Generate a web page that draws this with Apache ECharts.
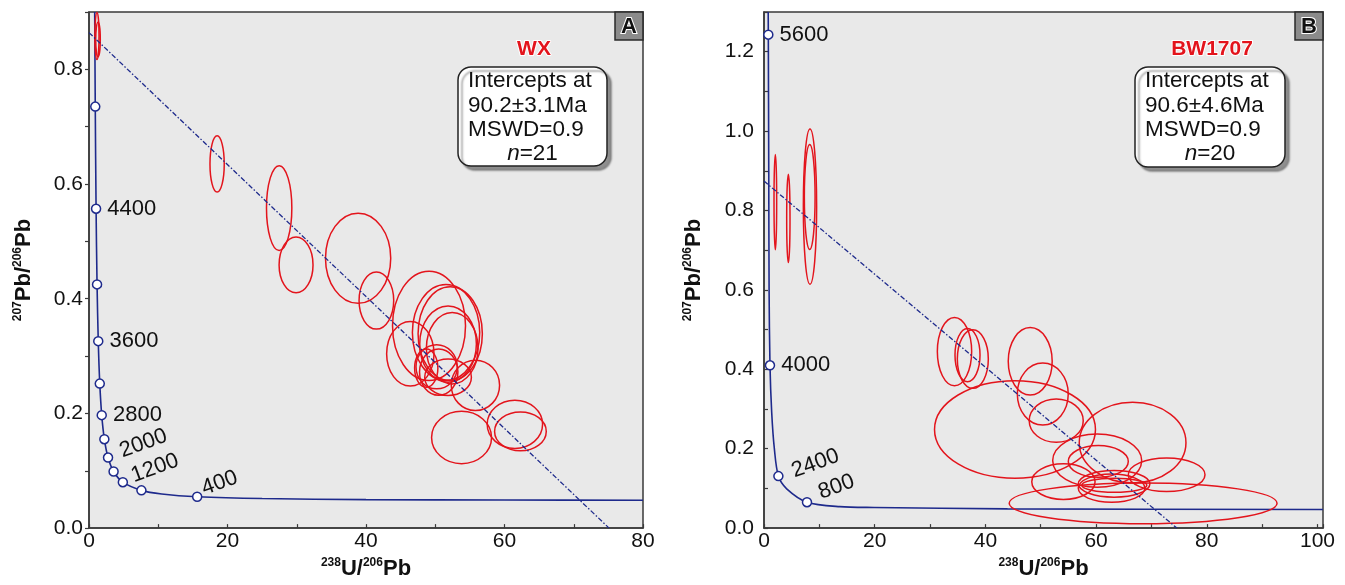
<!DOCTYPE html>
<html>
<head>
<meta charset="utf-8">
<title>Tera-Wasserburg concordia diagrams</title>
<script src="https://cdn.jsdelivr.net/npm/echarts@6/dist/echarts.min.js"></script>
<style>
  html, body { margin: 0; padding: 0; background: #ffffff; }
  #chart { width: 1345px; height: 585px; }
</style>
</head>
<body>
<div id="chart"></div>
<script>
// ---- Sample WX (panel A) ----
// concordia curve points [238U/206Pb, 207Pb/206Pb]
const concordiaA = [
  [0.822, 0.9], [0.905, 0.735], [1.022, 0.557], [1.163, 0.425], [1.337, 0.326],
  [1.556, 0.252], [1.838, 0.197], [2.217, 0.155], [2.749, 0.123], [3.55, 0.0987],
  [4.887, 0.0801], [7.57, 0.0658], [10.5, 0.0595], [15.62, 0.0547], [25, 0.0515],
  [40, 0.0497], [60, 0.049], [80, 0.0485]
];
// age markers on the concordia [x, y, age Ma]
const markersA = [
  [0.905, 0.735, 4800], [1.022, 0.557, 4400], [1.163, 0.425, 4000], [1.337, 0.326, 3600],
  [1.556, 0.252, 3200], [1.838, 0.197, 2800], [2.217, 0.155, 2400], [2.749, 0.123, 2000],
  [3.55, 0.0987, 1600], [4.887, 0.0801, 1200], [7.57, 0.0658, 800], [15.62, 0.0547, 400]
];
const labeledAgesA = [4400, 3600, 2800, 2000, 1200, 400];
// regression (discordia) line end points
const discordiaA = [[0, 0.864], [75.1, 0]];
// error ellipses [x, y, half-width x, half-height y]
const ellipsesA = [
  [1.15, 0.858, 0.3, 0.041], [1.3, 0.852, 0.33, 0.03],
  [18.5, 0.635, 1.03, 0.049], [27.46, 0.558, 1.83, 0.074], [29.9, 0.459, 2.45, 0.0486],
  [38.86, 0.4706, 4.71, 0.0786], [41.5, 0.3967, 2.5, 0.0497], [49.1, 0.3527, 5.27, 0.0954],
  [46.4, 0.304, 3.42, 0.0564], [51.56, 0.341, 4.86, 0.0838], [52.16, 0.339, 4.64, 0.0818],
  [51.85, 0.321, 4.09, 0.0665], [52.45, 0.3137, 3.73, 0.0622], [48.7, 0.279, 1.68, 0.0333],
  [50.2, 0.2813, 2.98, 0.0385], [50.5, 0.272, 2.77, 0.0405], [51.85, 0.263, 3.37, 0.0318],
  [55.8, 0.249, 3.49, 0.0439], [53.8, 0.158, 4.33, 0.0457], [61.5, 0.181, 4.0, 0.042],
  [62.3, 0.1686, 3.73, 0.0338]
];
const infoA = ['Intercepts at', '90.2\u00b13.1Ma', 'MSWD=0.9', '21'];

// ---- Sample BW1707 (panel B) ----
const concordiaB = [
  [0.76, 1.3], [0.78, 1.243], [0.86, 0.9], [0.92, 0.6], [1.08, 0.41], [1.39, 0.292],
  [1.87, 0.2], [2.6, 0.131], [4.1, 0.099], [7.77, 0.0653], [13.7, 0.054], [19.9, 0.052],
  [44, 0.0485], [101, 0.047]
];
const markersB = [[0.78, 1.243, 5600], [1.08, 0.41, 4000], [2.6, 0.131, 2400], [7.77, 0.0653, 800]];
const labeledAgesB = [5600, 4000, 2400, 800];
const discordiaB = [[0, 0.874], [74.6, 0]];
const ellipsesB = [
  [2.05, 0.821, 0.24, 0.12], [4.4, 0.78, 0.3, 0.111], [8.31, 0.81, 1.2, 0.1956], [8.26, 0.834, 0.97, 0.132],
  [34.42, 0.4446, 3.1, 0.086], [36.77, 0.4358, 2.26, 0.067], [37.73, 0.4257, 2.8, 0.0737],
  [45.35, 0.2484, 14.54, 0.1228], [48.1, 0.42, 3.97, 0.085], [50.37, 0.3377, 4.6, 0.078],
  [52.8, 0.2706, 4.88, 0.0545], [66.6, 0.2153, 9.64, 0.1014], [60.2, 0.17, 8.04, 0.067],
  [60.4, 0.168, 5.42, 0.0398], [72.75, 0.1345, 6.93, 0.0423], [54.1, 0.117, 5.72, 0.0448],
  [63.26, 0.1114, 6.47, 0.0335], [62.8, 0.1008, 6.02, 0.0356], [63.3, 0.108, 5.87, 0.0176],
  [68.5, 0.0624, 24.2, 0.0515]
];
const infoB = ['Intercepts at', '90.6\u00b14.6Ma', 'MSWD=0.9', '20'];

// ---- styling ----
const FONT = "'Liberation Sans', Arial, Helvetica, sans-serif";
const NAVY = '#1e2a8c';
const RED = '#e3141c';
const INK = '#111111';
const FRAME = '#3a3a3a';

// label offsets for the tilted age labels near the curve knee
const tiltedLabel = {
  2000: [3, -5], 1200: [0, -6], 400: [-3, -9],
  2400: [4, -3], 800: [4, -8]
};

const nameRich = {
  s: { fontSize: 12, fontWeight: 'bold', fontFamily: FONT, color: INK, lineHeight: 13, verticalAlign: 'top' },
  m: { fontSize: 22, fontWeight: 'bold', fontFamily: FONT, color: INK, lineHeight: 24 }
};

function makeAxis(gridIndex, min, max, step, every, decimals, inside, margin, name, gap, isY) {
  return {
    type: 'value', gridIndex, min, max, interval: step,
    name, nameLocation: 'middle', nameGap: gap, nameRotate: isY ? 90 : 0,
    nameTextStyle: { rich: nameRich },
    axisLine: { show: true, lineStyle: { color: FRAME, width: 1.5 } },
    axisTick: { show: true, inside, length: 4, lineStyle: { color: FRAME, width: 1.2 } },
    splitLine: { show: false },
    axisLabel: {
      margin, fontSize: 21, fontFamily: FONT, color: INK,
      formatter: v => {
        const k = Math.round(v / step);
        if (Math.abs(v - k * step) > step * 1e-6 || k % every !== 0) return '';
        return (k * step).toFixed(decimals);
      }
    }
  };
}

function ellipseSeries(axisIndex, data) {
  return {
    type: 'custom', xAxisIndex: axisIndex, yAxisIndex: axisIndex, z: 4,
    data,
    renderItem: (params, api) => {
      const c = api.coord([api.value(0), api.value(1)]);
      const s = api.size([api.value(2), api.value(3)]);
      return {
        type: 'ellipse',
        shape: { cx: c[0], cy: c[1], rx: s[0], ry: s[1] },
        style: { fill: 'none', stroke: RED, lineWidth: 1.5 }
      };
    }
  };
}

function curveSeries(axisIndex, data) {
  return {
    type: 'line', xAxisIndex: axisIndex, yAxisIndex: axisIndex, z: 3,
    data, showSymbol: false, smooth: 0.3, silent: true,
    lineStyle: { color: NAVY, width: 1.6 }
  };
}

function discordiaSeries(axisIndex, data) {
  return {
    type: 'line', xAxisIndex: axisIndex, yAxisIndex: axisIndex, z: 5,
    data, showSymbol: false, silent: true,
    lineStyle: { color: NAVY, width: 1.3, type: [5, 2, 1.5, 2] }
  };
}

function markerSeries(axisIndex, markers, labeled) {
  return {
    type: 'scatter', xAxisIndex: axisIndex, yAxisIndex: axisIndex, z: 6,
    symbol: 'circle', symbolSize: 9,
    itemStyle: { color: '#ffffff', borderColor: NAVY, borderWidth: 1.5, opacity: 1 },
    data: markers.map(m => {
      const age = m[2];
      const show = labeled.indexOf(age) >= 0;
      const tilt = tiltedLabel[age];
      return {
        value: [m[0], m[1]],
        label: {
          show, position: 'right', distance: 6,
          formatter: String(age), fontSize: 22, fontFamily: FONT, color: INK,
          rotate: tilt ? 20 : 0, offset: tilt || [0, 0]
        }
      };
    })
  };
}

function infoBox(x, y, w, h, lines, tx) {
  const cx = x + w / 2;
  const textStyle = { fill: INK, font: '22.5px ' + FONT, align: 'left', verticalAlign: 'middle' };
  return [
    {
      type: 'rect', z: 50,
      shape: { x, y, width: w, height: h, r: 13 },
      style: { fill: '#ffffff', stroke: '#222222', lineWidth: 1.5,
               shadowColor: 'rgba(0,0,0,0.38)', shadowOffsetX: 4, shadowOffsetY: 4, shadowBlur: 2 }
    },
    { type: 'text', z: 51, x: tx, y: y + 14, style: Object.assign({ text: lines[0] }, textStyle) },
    { type: 'text', z: 51, x: tx, y: y + 39, style: Object.assign({ text: lines[1] }, textStyle) },
    { type: 'text', z: 51, x: tx, y: y + 63, style: Object.assign({ text: lines[2] }, textStyle) },
    {
      type: 'text', z: 51, x: cx, y: y + 87,
      style: {
        text: '{i|n}{r|=' + lines[3] + '}', align: 'center', verticalAlign: 'middle',
        rich: {
          i: { font: 'italic 22.5px ' + FONT, fill: INK },
          r: { font: '22.5px ' + FONT, fill: INK }
        }
      }
    }
  ];
}

function cornerTag(x, y, letter) {
  return [
    { type: 'rect', z: 50, shape: { x, y, width: 28, height: 28 },
      style: { fill: '#8b8b8b', stroke: '#2a2a2a', lineWidth: 1.5 } },
    { type: 'text', z: 51, x: x + 14, y: y + 15,
      style: { text: letter, font: 'bold 22px ' + FONT, fill: INK, stroke: '#ffffff', lineWidth: 2,
               align: 'center', verticalAlign: 'middle' } }
  ];
}

function sampleTitle(x, y, text) {
  return { type: 'text', z: 51, x, y,
    style: { text, font: 'bold 21px ' + FONT, fill: RED, stroke: '#ffffff', lineWidth: 2,
             align: 'center', verticalAlign: 'middle' } };
}

const xName = '{s|238}{m|U/}{s|206}{m|Pb}';
const yName = '{s|207}{m|Pb/}{s|206}{m|Pb}';

const chart = echarts.init(document.getElementById('chart'), null, { renderer: 'canvas' });
chart.setOption({
  animation: false,
  backgroundColor: '#ffffff',
  grid: [
    { left: 89, top: 12, width: 554, height: 518, show: true, backgroundColor: '#e9e9e9',
      borderColor: FRAME, borderWidth: 1.5 },
    { left: 764, top: 12, width: 559, height: 517, show: true, backgroundColor: '#e9e9e9',
      borderColor: FRAME, borderWidth: 1.5 }
  ],
  xAxis: [
    makeAxis(0, 0, 80, 10, 2, 0, true, 3, xName, 24, false),
    makeAxis(1, 0, 101, 10, 2, 0, true, 3, xName, 24, false)
  ],
  yAxis: [
    makeAxis(0, 0, 0.9, 0.1, 2, 1, false, 6, yName, 53, true),
    makeAxis(1, 0, 1.3, 0.1, 2, 1, true, 10, yName, 58, true)
  ],
  series: [
    ellipseSeries(0, ellipsesA),
    curveSeries(0, concordiaA),
    discordiaSeries(0, discordiaA),
    markerSeries(0, markersA, labeledAgesA),
    ellipseSeries(1, ellipsesB),
    curveSeries(1, concordiaB),
    discordiaSeries(1, discordiaB),
    markerSeries(1, markersB, labeledAgesB)
  ],
  graphic: [].concat(
    cornerTag(615, 12, 'A'),
    cornerTag(1295, 12, 'B'),
    [sampleTitle(534, 49, 'WX'), sampleTitle(1212, 49, 'BW1707')],
    infoBox(458, 67, 149, 99, infoA, 468),
    infoBox(1135, 67, 150, 100, infoB, 1145)
  )
});
</script>
</body>
</html>
